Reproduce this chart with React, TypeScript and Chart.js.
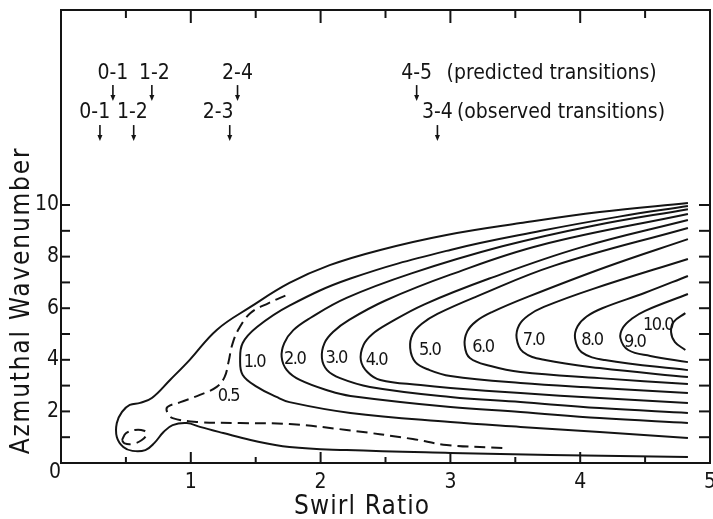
import React, { useEffect, useRef } from 'react';
import { Chart, registerables } from 'chart.js';

Chart.register(...registerables);

const FONT = '"DejaVu Sans Condensed", "DejaVu Sans", sans-serif';
const INK = '#141414';

// Axis ticks and labels
const xTickValues = [0.5, 1, 1.5, 2, 2.5, 3, 3.5, 4, 4.5];
const xLabelValues = [1, 2, 3, 4, 5];
const yTickValues = [1, 2, 3, 4, 5, 6, 7, 8, 9, 10];
const yLabelValues = [2, 4, 6, 8, 10];
const xTitle = 'Swirl Ratio';
const yTitle = 'Azmuthal Wavenumber';

// Transition markers
const predictedLabels = ['0-1', '1-2', '2-4', '4-5'];
const predictedArrowX = [0.40, 0.70, 1.36, 2.74];
const predictedLabelX = [0.40, 0.72, 1.36, 2.74];
const observedLabels = ['0-1', '1-2', '2-3', '3-4'];
const observedArrowX = [0.30, 0.56, 1.30, 2.90];
const observedLabelX = [0.26, 0.55, 1.21, 2.90];
const predictedRowY = 15.08;
const observedRowY = 13.6;
const predictedNote = '(predicted transitions)';
const observedNote = '(observed transitions)';
const predictedNoteX = 2.97;
const observedNoteX = 3.05;

// Contours (swirl ratio, azimuthal wavenumber)
const contourOuter: [number, number][] = [
  [4.83, 0.23], [3.77, 0.31], [3.0, 0.39], [2.2, 0.5], [1.76, 0.62], [1.46, 0.89], [1.25, 1.16],
  [1.07, 1.4], [0.97, 1.55], [0.86, 1.47], [0.79, 1.2], [0.72, 0.78], [0.65, 0.5], [0.55, 0.47],
  [0.48, 0.62], [0.43, 1.01], [0.43, 1.55], [0.47, 1.98], [0.53, 2.25], [0.61, 2.33], [0.7, 2.52],
  [0.84, 3.22], [0.99, 3.99], [1.2, 5.16], [1.46, 6.05], [1.76, 6.98], [2.07, 7.67], [2.46, 8.26],
  [2.97, 8.84], [3.54, 9.3], [4.15, 9.73], [4.83, 10.08],
];
const contourHalf: [number, number][] = [
  [3.4, 0.58], [2.97, 0.7], [2.71, 0.93], [2.2, 1.28], [1.76, 1.51], [1.38, 1.55], [1.05, 1.59],
  [0.86, 1.74], [0.82, 1.94], [0.82, 2.17], [0.92, 2.36], [1.07, 2.64], [1.2, 2.95], [1.26, 3.33],
  [1.29, 3.9], [1.32, 4.6], [1.37, 5.2], [1.46, 5.81], [1.6, 6.2], [1.74, 6.51],
];
const contourLoop: [number, number][] = [
  [0.47, 0.89], [0.5, 1.15], [0.57, 1.28], [0.64, 1.25], [0.66, 1.12], [0.62, 0.88], [0.55, 0.74],
  [0.49, 0.76], [0.47, 0.89],
];
const contour1: [number, number][] = [
  [4.83, 0.97], [4.15, 1.2], [3.54, 1.4], [3.0, 1.59], [2.23, 1.94], [1.76, 2.36], [1.66, 2.56],
  [1.51, 2.95], [1.4, 3.41], [1.38, 3.99], [1.4, 4.65], [1.51, 5.27], [1.76, 6.1], [2.23, 7.15],
  [3.0, 8.26], [3.7, 9.0], [4.3, 9.55], [4.83, 9.96],
];
const contour2: [number, number][] = [
  [4.83, 1.55], [4.15, 1.74], [3.54, 1.98], [3.0, 2.17], [2.23, 2.6], [2.07, 2.79], [1.84, 3.22],
  [1.74, 3.6], [1.7, 4.11], [1.72, 4.65], [1.79, 5.15], [1.92, 5.62], [2.2, 6.4], [2.7, 7.35],
  [3.4, 8.4], [4.1, 9.2], [4.83, 9.84],
];
const contour3: [number, number][] = [
  [4.83, 1.94], [4.15, 2.13], [3.54, 2.36], [3.0, 2.56], [2.38, 2.95], [2.15, 3.29], [2.05, 3.6],
  [2.01, 4.07], [2.03, 4.65], [2.1, 5.1], [2.22, 5.55], [2.5, 6.3], [3.0, 7.3], [3.7, 8.45],
  [4.83, 9.65],
];
const contour4: [number, number][] = [
  [4.83, 2.33], [4.15, 2.52], [3.54, 2.71], [3.0, 2.91], [2.77, 3.02], [2.46, 3.22], [2.36, 3.53],
  [2.31, 3.99], [2.33, 4.57], [2.4, 5.0], [2.52, 5.4], [2.8, 6.15], [3.3, 7.15], [4.0, 8.35],
  [4.83, 9.42],
];
const contour5: [number, number][] = [
  [4.83, 2.71], [4.15, 2.91], [3.54, 3.1], [3.0, 3.37], [2.84, 3.6], [2.73, 3.91], [2.69, 4.46],
  [2.71, 5.0], [2.78, 5.4], [2.9, 5.78], [3.2, 6.45], [3.8, 7.65], [4.83, 9.11],
];
const contour6: [number, number][] = [
  [4.83, 3.06], [4.15, 3.29], [3.54, 3.53], [3.31, 3.76], [3.15, 4.07], [3.11, 4.57], [3.13, 5.1],
  [3.2, 5.5], [3.32, 5.85], [3.6, 6.45], [4.2, 7.6], [4.83, 8.68],
];
const contour7: [number, number][] = [
  [4.83, 3.33], [4.15, 3.68], [3.73, 3.99], [3.56, 4.3], [3.51, 4.84], [3.53, 5.35], [3.6, 5.72],
  [3.72, 6.05], [4.1, 6.75], [4.83, 7.91],
];
const contour8: [number, number][] = [
  [4.83, 3.6], [4.19, 3.99], [4.01, 4.3], [3.96, 4.84], [3.98, 5.3], [4.05, 5.68], [4.17, 6.0],
  [4.5, 6.6], [4.83, 7.25],
];
const contour9: [number, number][] = [
  [4.83, 3.91], [4.54, 4.15], [4.37, 4.38], [4.31, 4.84], [4.33, 5.25], [4.4, 5.6], [4.5, 5.9],
  [4.83, 6.55],
];
const contour10: [number, number][] = [
  [4.81, 5.81], [4.72, 5.47], [4.7, 5.08], [4.73, 4.69], [4.81, 4.38],
];

// Contour labels
const contourLabelText = ['0.5', '1.0', '2.0', '3.0', '4.0', '5.0', '6.0', '7.0', '8.0', '9.0', '10.0'];
const contourLabelX = [1.29, 1.49, 1.8, 2.12, 2.43, 2.84, 3.25, 3.64, 4.09, 4.42, 4.6];
const contourLabelY = [2.6, 3.91, 4.03, 4.07, 3.99, 4.38, 4.5, 4.77, 4.77, 4.69, 5.35];

const solidContours = [contourOuter, contour1, contour2, contour3, contour4, contour5, contour6, contour7, contour8, contour9, contour10];
const dashedContours = [contourHalf, contourLoop];

const decorPlugin = {
  id: 'decor',
  afterDatasetsDraw(chart: any) {
    const { ctx, chartArea: a, scales } = chart;
    const xs = scales.x;
    const ys = scales.y;
    const px = (v: number) => xs.getPixelForValue(v);
    const py = (v: number) => ys.getPixelForValue(v);
    const spacing = (s: string) => { try { (ctx as any).letterSpacing = s; } catch (e) {} };
    ctx.save();
    ctx.strokeStyle = INK;
    ctx.fillStyle = INK;
    ctx.lineWidth = 2;
    ctx.lineCap = 'butt';
    ctx.strokeRect(a.left, a.top, a.right - a.left, a.bottom - a.top);
    const seg = (x1: number, y1: number, x2: number, y2: number) => {
      ctx.beginPath();
      ctx.moveTo(x1, y1);
      ctx.lineTo(x2, y2);
      ctx.stroke();
    };
    for (const v of xTickValues) {
      const x = px(v);
      const len = Number.isInteger(v) ? 11 : 6;
      seg(x, a.bottom, x, a.bottom - len);
      seg(x, a.top, x, a.top + len + 2);
    }
    for (const v of yTickValues) {
      const y = py(v);
      seg(a.left, y, a.left + 9, y);
      seg(a.right, y, a.right - 11, y);
    }
    // tick labels
    spacing('0px');
    ctx.font = `21px ${FONT}`;
    ctx.textAlign = 'right';
    ctx.textBaseline = 'middle';
    for (const v of yLabelValues) ctx.fillText(String(v), a.left - 2, py(v));
    ctx.textAlign = 'center';
    ctx.fillText('0', a.left - 6, a.bottom + 10);
    for (const v of xLabelValues) ctx.fillText(String(v), px(v), a.bottom + 20);
    // titles
    ctx.font = `26px ${FONT}`;
    spacing('1.1px');
    ctx.fillText(xTitle, px(2.32), a.bottom + 44);
    spacing('1.8px');
    ctx.save();
    ctx.translate(22, py(6.3));
    ctx.rotate(-Math.PI / 2);
    ctx.fillText(yTitle, 0, 0);
    ctx.restore();
    spacing('0px');
    // transitions
    ctx.font = `21px ${FONT}`;
    const arrow = (xv: number, yTop: number, yBot: number) => {
      const x = px(xv);
      const t = py(yTop);
      const b = py(yBot);
      ctx.lineWidth = 1.6;
      seg(x, t, x, b - 5);
      ctx.beginPath();
      ctx.moveTo(x - 2.5, b - 6);
      ctx.lineTo(x + 2.5, b - 6);
      ctx.lineTo(x, b);
      ctx.closePath();
      ctx.fill();
    };
    ctx.textAlign = 'center';
    predictedLabels.forEach((t, i) => {
      ctx.fillText(t, px(predictedLabelX[i]), py(predictedRowY));
      arrow(predictedArrowX[i], predictedRowY - 0.43, predictedRowY - 1.05);
    });
    observedLabels.forEach((t, i) => {
      ctx.fillText(t, px(observedLabelX[i]), py(observedRowY));
      arrow(observedArrowX[i], observedRowY - 0.5, observedRowY - 1.12);
    });
    ctx.textAlign = 'left';
    ctx.fillText(predictedNote, px(predictedNoteX), py(predictedRowY));
    ctx.fillText(observedNote, px(observedNoteX), py(observedRowY));
    // contour labels
    ctx.font = `18px ${FONT}`;
    ctx.textAlign = 'center';
    spacing('-1.5px');
    contourLabelText.forEach((t, i) => {
      ctx.fillText(t, px(contourLabelX[i]), py(contourLabelY[i]));
    });
    ctx.restore();
  },
};

export default function App() {
  const ref = useRef<HTMLCanvasElement | null>(null);
  useEffect(() => {
    document.body.style.margin = '0';
    const canvas = ref.current;
    if (!canvas) return;
    const toPoints = (c: [number, number][]) => c.map(([x, y]) => ({ x, y }));
    const datasets: any[] = [];
    solidContours.forEach((c) => {
      datasets.push({
        data: toPoints(c), showLine: true, borderColor: INK, borderWidth: 2,
        pointRadius: 0, tension: 0.4, fill: false,
      });
    });
    dashedContours.forEach((c) => {
      datasets.push({
        data: toPoints(c), showLine: true, borderColor: INK, borderWidth: 2,
        pointRadius: 0, tension: 0.4, fill: false, borderDash: [11, 6],
      });
    });
    const chart = new Chart(canvas, {
      type: 'scatter',
      data: { datasets },
      options: {
        responsive: false,
        animation: false,
        devicePixelRatio: 1,
        events: [],
        layout: { padding: { left: 61, right: 3, top: 10, bottom: 56 } },
        scales: {
          x: { type: 'linear', min: 0, max: 5, display: false },
          y: { type: 'linear', min: 0, max: 17.56, display: false },
        },
        plugins: { legend: { display: false }, tooltip: { enabled: false } },
      },
      plugins: [decorPlugin],
    });
    return () => chart.destroy();
  }, []);
  return (
    <div style={{ position: 'absolute', left: 0, top: 0, width: 713, height: 519, background: '#fff' }}>
      <canvas ref={ref} width={713} height={519} style={{ display: 'block' }} />
    </div>
  );
}
